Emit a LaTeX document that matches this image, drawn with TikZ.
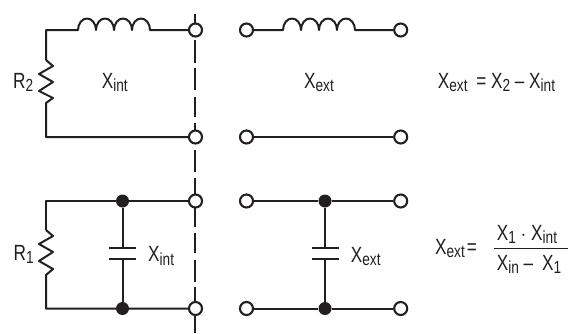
\documentclass[tikz,border=0pt]{standalone}
\usepackage{fontspec}
\setmainfont[FakeStretch=0.78]{Liberation Sans}
\definecolor{ink}{HTML}{231F20}
\newcommand{\sbs}[1]{\raisebox{-3.6pt}{\fontsize{17.5}{18}\selectfont #1}}
\tikzset{
  wire/.style={draw=ink,line width=2pt,line join=round},
  dashline/.style={draw=ink,line width=2.2pt},
  term/.style={circle,draw=ink,fill=white,line width=2.1pt,minimum size=13pt,inner sep=0pt},
  junc/.style={circle,fill=ink,minimum size=13pt,inner sep=0pt},
  lab/.style={anchor=base west,inner sep=0pt,text=ink,font=\fontsize{22}{23}\selectfont},
  hump/.style={x radius=9,y radius=11.5,start angle=180,end angle=360},
  plate/.style={draw=ink,line width=2pt}
}
\begin{document}
\begin{tikzpicture}[x=1pt,y=-1pt]
\useasboundingbox (0,0) rectangle (569,333);
\fill[white] (0,0) rectangle (569,333);
% dashed separation
\draw[dashline] (195,14) -- (195,33);
\draw[dashline] (195,40) -- (195,63);
\draw[dashline] (195,68) -- (195,90);
\draw[dashline] (195,97) -- (195,117);
\draw[dashline] (195,123) -- (195,137);
\draw[dashline] (195,150) -- (195,172);
\draw[dashline] (195,178) -- (195,201);
\draw[dashline] (195,208) -- (195,227);
\draw[dashline] (195,233) -- (195,253);
\draw[dashline] (195,260) -- (195,282);
\draw[dashline] (195,287) -- (195,333);
% coordinates
\coordinate (c1) at (46,30);
\coordinate (l1a) at (78,30);
\coordinate (c2) at (46,137);
\coordinate (r2a) at (46,60);
\coordinate (r2b) at (46,103);
\coordinate (l2a) at (283,30);
\coordinate (c3) at (46,201);
\coordinate (c4) at (46,308.5);
\coordinate (r1a) at (46,230);
\coordinate (r1b) at (46,275);
\coordinate (p1a) at (122.5,248);
\coordinate (p1b) at (122.5,259);
\coordinate (p2a) at (325,248);
\coordinate (p2b) at (325,259);
% terminals
\node[term] (t1) at (195.5,30) {};
\node[term] (t2) at (195.5,137) {};
\node[term] (t3) at (195.5,201) {};
\node[term] (t4) at (195.5,308.5) {};
\node[term] (t5) at (246.5,30) {};
\node[term] (t6) at (246.5,137) {};
\node[term] (t7) at (246.5,201) {};
\node[term] (t8) at (246.5,308.5) {};
\node[term] (t9) at (400.7,30) {};
\node[term] (t10) at (400.7,137) {};
\node[term] (t11) at (400.7,201) {};
\node[term] (t12) at (400.7,308.5) {};
\node[junc] (j1) at (122.5,201) {};
\node[junc] (j2) at (122.5,308.5) {};
\node[junc] (j3) at (325,201) {};
\node[junc] (j4) at (325,308.5) {};
% top-left
\draw[wire] (r2a) -- (c1) -- (l1a)
  arc[hump] arc[hump] arc[hump] arc[hump] -- (t1);
\draw[wire] (r2a) -- ++(7,6) -- ++(-14,8) -- ++(14,8) -- ++(-14,9) -- ++(14,7) -- (r2b) -- (c2) -- (t2);
% top-right
\draw[wire] (t5) -- (l2a) arc[hump] arc[hump] arc[hump] arc[hump] -- (t9);
\draw[wire] (t6) -- (t10);
% bottom-left
\draw[wire] (r1a) -- (c3) -- (j1) -- (t3);
\draw[wire] (r1a) -- ++(7,6) -- ++(-14,8) -- ++(14,8) -- ++(-14,9) -- ++(14,8) -- (r1b) -- (c4) -- (j2) -- (t4);
\draw[wire] (j1) -- (p1a);
\draw[wire] (p1b) -- (j2);
\draw[plate] (109,248) -- (136,248);
\draw[plate] (109,259) -- (136,259);
% bottom-right
\draw[wire] (t7) -- (j3) -- (t11);
\draw[wire] (t8) -- (j4) -- (t12);
\draw[wire] (j3) -- (p2a);
\draw[wire] (p2b) -- (j4);
\draw[plate] (311.7,248) -- (338.5,248);
\draw[plate] (311.7,259) -- (338.5,259);
% labels
\node[lab] (a1) at (13,88) {R\sbs{2}};
\node[lab] (a2) at (101.7,88) {X\sbs{int}};
\node[lab] (a3) at (304,88) {X\sbs{ext}};
\node[lab] (a4) at (437.7,88) {X\sbs{ext}\hspace{4pt} = X\sbs{2} – X\sbs{int}};
\node[lab] (a5) at (13.5,260) {R\sbs{1}};
\node[lab] (a6) at (148,261.7) {X\sbs{int}};
\node[lab] (a7) at (350.7,262) {X\sbs{ext}};
\node[lab] (a8) at (435,254) {X\sbs{ext}\hspace{2pt}=};
\node[lab] (a9) at (496.7,240) {X\sbs{1} $\cdot$ X\sbs{int}};
\node[lab] (a10) at (496.7,270) {X\sbs{in} – \hspace{4pt}X\sbs{1}};
\draw[draw=ink,line width=1.3pt] (494,248.3) -- (568,248.3);
\end{tikzpicture}
\end{document}
